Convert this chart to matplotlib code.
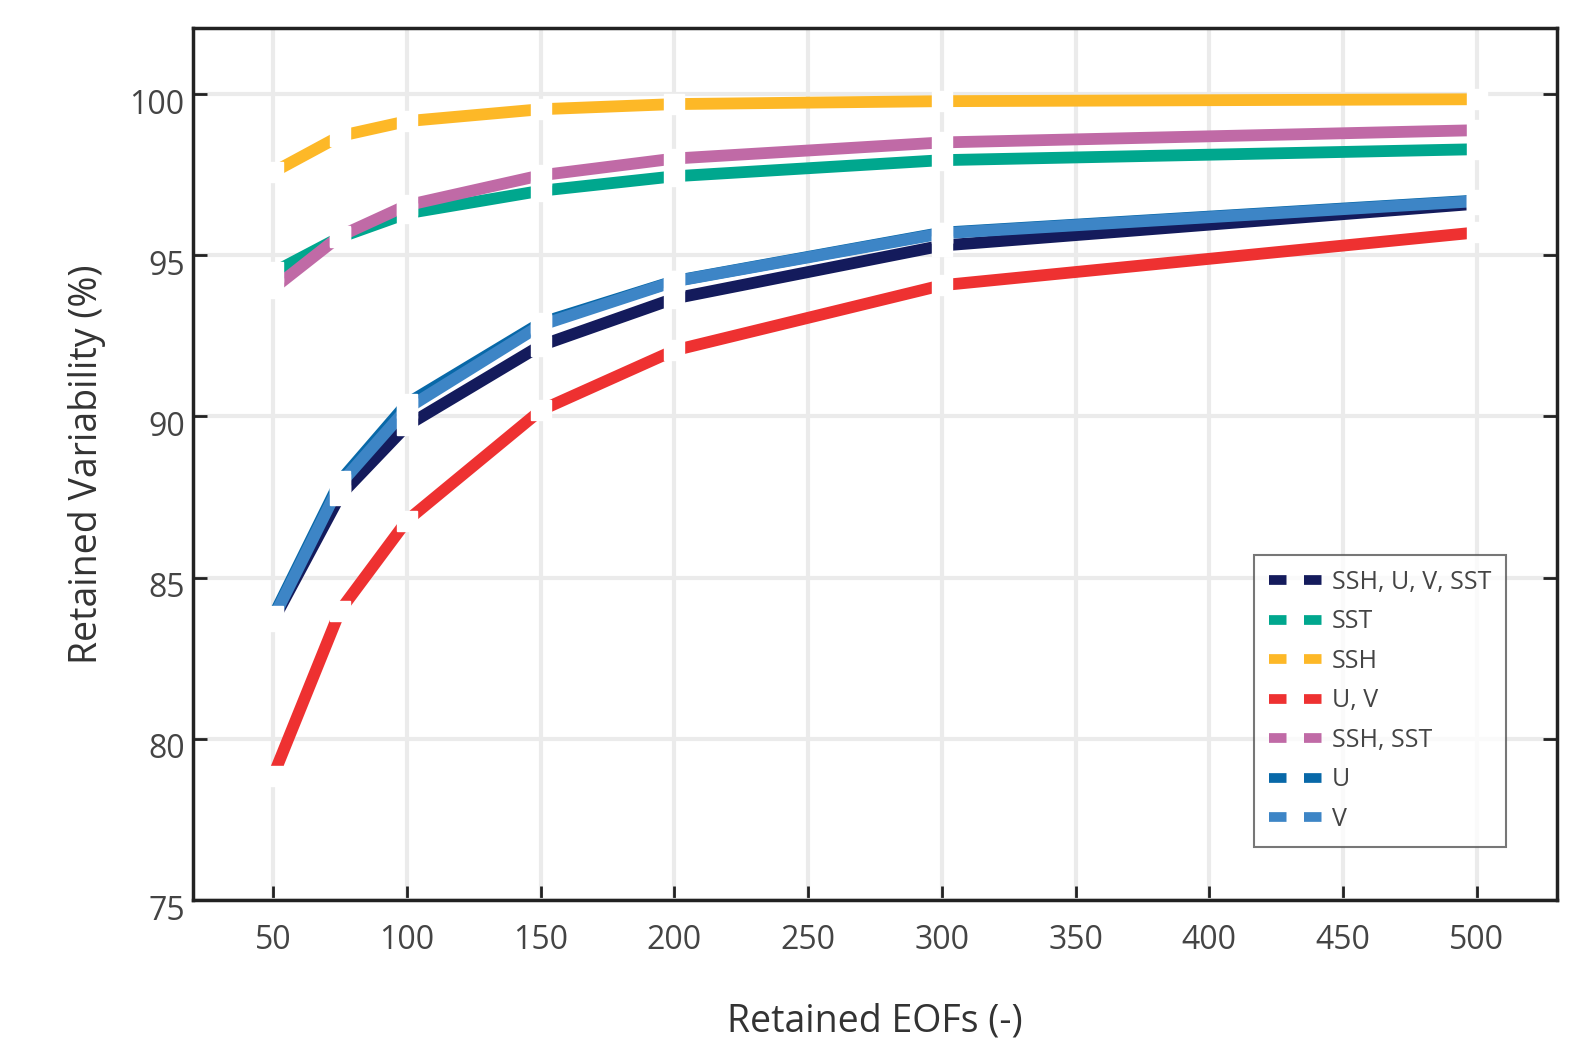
import numpy as np
import matplotlib
matplotlib.use('Agg')
import matplotlib.pyplot as plt
import matplotlib.transforms as mtransforms
from matplotlib.lines import Line2D

plt.rcParams['font.family'] = ['Open Sans', 'DejaVu Sans']

eofs = [50, 75, 100, 150, 200, 300, 500]

labels = ['SSH, U, V, SST', 'SST', 'SSH', 'U, V', 'SSH, SST', 'U', 'V']
colors = ['#141b5c', '#00a78e', '#fdb827', '#ee3131', '#c06aa6', '#0868a8', '#3d85c6']

ssh_u_v_sst = [83.67, 87.55, 89.72, 92.2, 93.66, 95.3, 96.6]
sst = [94.47, 95.56, 96.3, 97.0, 97.45, 97.95, 98.29]
ssh = [97.58, 98.7, 99.16, 99.53, 99.69, 99.78, 99.84]
u_v = [78.85, 83.98, 86.77, 90.19, 92.05, 94.07, 95.71]
ssh_sst = [93.97, 95.6, 96.55, 97.48, 98.0, 98.5, 98.88]
u = [83.8, 88.0, 90.4, 92.9, 94.2, 95.7, 96.7]
v = [83.73, 87.9, 90.25, 92.83, 94.19, 95.68, 96.68]

series = [ssh_u_v_sst, sst, ssh, u_v, ssh_sst, u, v]

fig = plt.figure(figsize=(15.71, 10.43), dpi=100)
ax = fig.add_axes([193 / 1571, 1 - 900 / 1043, 1364 / 1571, 872 / 1043])

for vals, c in zip(series, colors):
    ax.plot(eofs, vals, color=c, lw=8.5, solid_capstyle='butt', zorder=3)
# white square markers cut gaps at every data point
for vals in series:
    ax.plot(eofs, vals, ls='none', marker='s', ms=14, mfc='white', mec='white', zorder=4)

ax.set_xlim(20, 530)
ax.set_ylim(75, 102.05)
ax.set_xticks(np.arange(50, 501, 50))
ax.set_yticks([75, 80, 85, 90, 95, 100])
ax.grid(True, color='#ebebeb', lw=3, zorder=0)
ax.set_axisbelow(True)

for s in ax.spines.values():
    s.set_linewidth(2.5)
    s.set_color('#222222')
ax.tick_params(direction='in', length=10, width=2, colors='#222222',
               labelcolor='#444444', labelsize=23, right=True)
ax.tick_params(axis='x', pad=17)
ax.tick_params(axis='y', pad=6)
# y tick labels sit a little below their ticks in the original
shift = mtransforms.ScaledTranslation(0, -7 / 100, fig.dpi_scale_trans)
for lab in ax.get_yticklabels():
    lab.set_transform(lab.get_transform() + shift)

ax.set_xlabel('Retained EOFs (-)', fontsize=27, color='#333333', labelpad=33)
ax.set_ylabel('Retained Variability (%)', fontsize=27, color='#333333', labelpad=17)

handles = [Line2D([0], [0], color=c, lw=7, ls=(0, (1.8, 1.8)),
                  dash_capstyle='butt') for c in colors]
leg = ax.legend(handles, labels, loc='lower right', bbox_to_anchor=(0.9626, 0.0608),
                borderaxespad=0, fontsize=18, frameon=True, fancybox=False,
                edgecolor='#555555', handlelength=2.2, labelspacing=0.58,
                borderpad=0.6, handletextpad=0.3)
leg.get_frame().set_linewidth(1.5)
for t in leg.get_texts():
    t.set_color('#444444')

fig.savefig('out.png', dpi=100)
